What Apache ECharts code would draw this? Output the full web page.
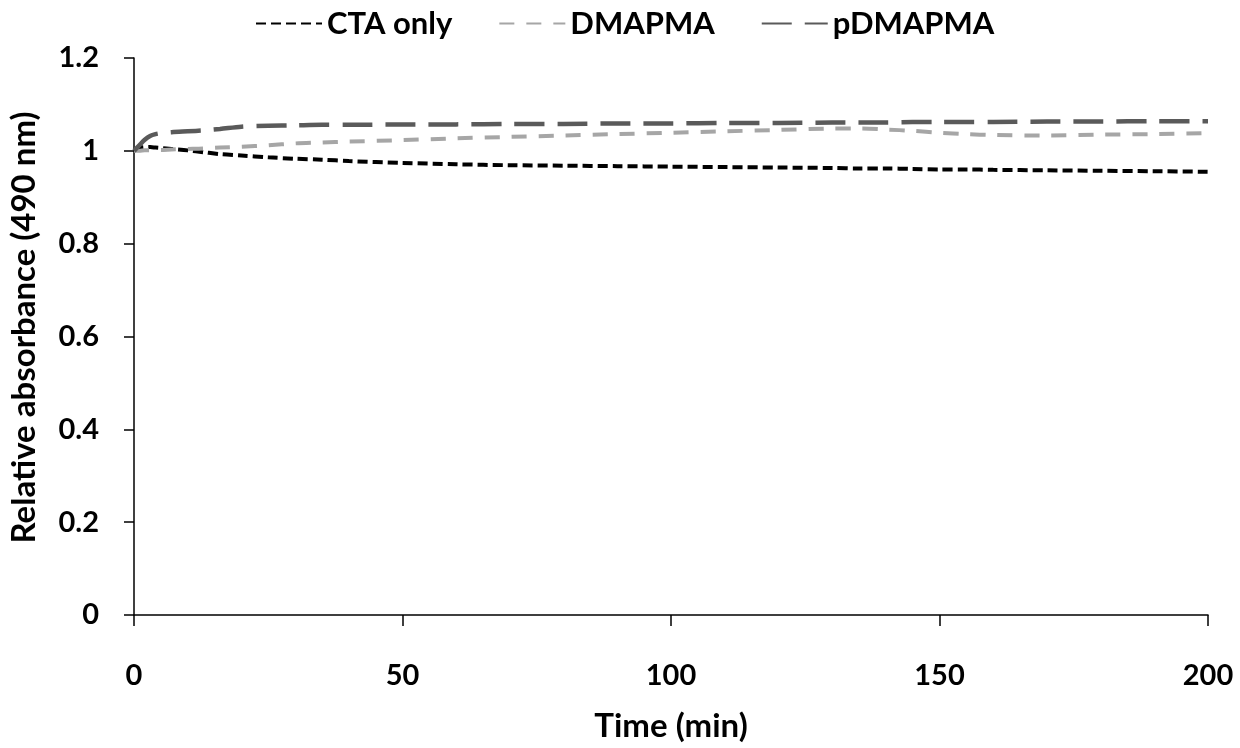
<!DOCTYPE html>
<html>
<head>
<meta charset="utf-8">
<script src="https://cdn.jsdelivr.net/npm/echarts@6/dist/echarts.min.js"></script>
<style>
html,body{margin:0;padding:0;background:#fff;}
#chart{width:1240px;height:748px;}
</style>
</head>
<body>
<div id="chart"></div>
<script>
const seriesNames = ['CTA only', 'DMAPMA', 'pDMAPMA'];
const timeMin = [0,1,2,3,4,5,7,10,13,16,20,25,30,35,40,50,60,70,80,90,100,110,120,130,135,140,145,150,155,160,170,180,190,200];
const ctaOnly = [1.000,1.006,1.008,1.008,1.007,1.006,1.004,1.001,0.997,0.993,0.990,0.986,0.983,0.981,0.978,0.974,0.971,0.969,0.968,0.967,0.966,0.965,0.964,0.963,0.962,0.962,0.961,0.960,0.960,0.959,0.958,0.957,0.956,0.955];
const dmapma = [1.000,1.000,1.001,1.001,1.002,1.002,1.003,1.004,1.005,1.007,1.009,1.012,1.016,1.018,1.020,1.023,1.027,1.030,1.033,1.036,1.039,1.042,1.045,1.048,1.048,1.046,1.043,1.039,1.036,1.034,1.033,1.035,1.036,1.038];
const pdmapma = [1.000,1.012,1.024,1.032,1.036,1.038,1.040,1.042,1.044,1.047,1.052,1.054,1.055,1.056,1.056,1.057,1.057,1.058,1.058,1.059,1.059,1.060,1.060,1.061,1.061,1.061,1.062,1.062,1.062,1.062,1.063,1.063,1.064,1.064];
const xTicks = {min: 0, max: 200, interval: 50};
const yTicks = {min: 0, max: 1.2, interval: 0.2};

const FONT = 'Lato, "Open Sans", "Liberation Sans", sans-serif';
const pairs = vals => timeMin.map((t, i) => [t, vals[i]]);

const chart = echarts.init(document.getElementById('chart'), null, {renderer: 'canvas'});
chart.setOption({
  animation: false,
  backgroundColor: '#fff',
  grid: {left: 131, right: 32, top: 58, bottom: 112, containLabel: false},
  legend: {
    left: 250, top: 3,
    itemWidth: 66, itemHeight: 28, itemGap: 46,
    itemStyle: {opacity: 0},
    textStyle: {fontFamily: FONT, fontWeight: 'bold', fontSize: 31, color: '#000'},
    data: seriesNames
  },
  xAxis: {
    type: 'value', min: xTicks.min, max: xTicks.max, interval: xTicks.interval,
    name: 'Time (min)', nameLocation: 'middle', nameGap: 95,
    nameTextStyle: {fontFamily: FONT, fontWeight: 'bold', fontSize: 33, color: '#000'},
    axisLine: {show: true, lineStyle: {color: '#000', width: 1.5}},
    axisTick: {show: true, length: 11, lineStyle: {color: '#000', width: 1.5}},
    axisLabel: {margin: 46, fontFamily: FONT, fontWeight: 'bold', fontSize: 29, color: '#000'},
    splitLine: {show: false}
  },
  yAxis: {
    type: 'value', min: yTicks.min, max: yTicks.max, interval: yTicks.interval,
    name: 'Relative absorbance (490 nm)', nameLocation: 'middle', nameGap: 93,
    nameTextStyle: {fontFamily: FONT, fontWeight: 'bold', fontSize: 33, color: '#000', padding: [0, 0, 0, 18]},
    axisLine: {show: true, lineStyle: {color: '#000', width: 1.5}},
    axisTick: {show: true, length: 10, lineStyle: {color: '#000', width: 1.5}},
    axisLabel: {margin: 35, fontFamily: FONT, fontWeight: 'bold', fontSize: 29, color: '#000'},
    splitLine: {show: false}
  },
  series: [
    {name: seriesNames[0], type: 'line', data: pairs(ctaOnly), smooth: 0.3, symbol: 'none',
     lineStyle: {color: '#000', width: 4, type: [10, 5]}, itemStyle: {color: '#000'}},
    {name: seriesNames[1], type: 'line', data: pairs(dmapma), smooth: 0.3, symbol: 'none',
     lineStyle: {color: '#a6a6a6', width: 4, type: [15, 12]}, itemStyle: {color: '#a6a6a6'}},
    {name: seriesNames[2], type: 'line', data: pairs(pdmapma), smooth: 0.3, symbol: 'none',
     lineStyle: {color: '#5a5a5a', width: 4.5, type: [30, 13]}, itemStyle: {color: '#5a5a5a'}}
  ]
});
</script>
</body>
</html>
